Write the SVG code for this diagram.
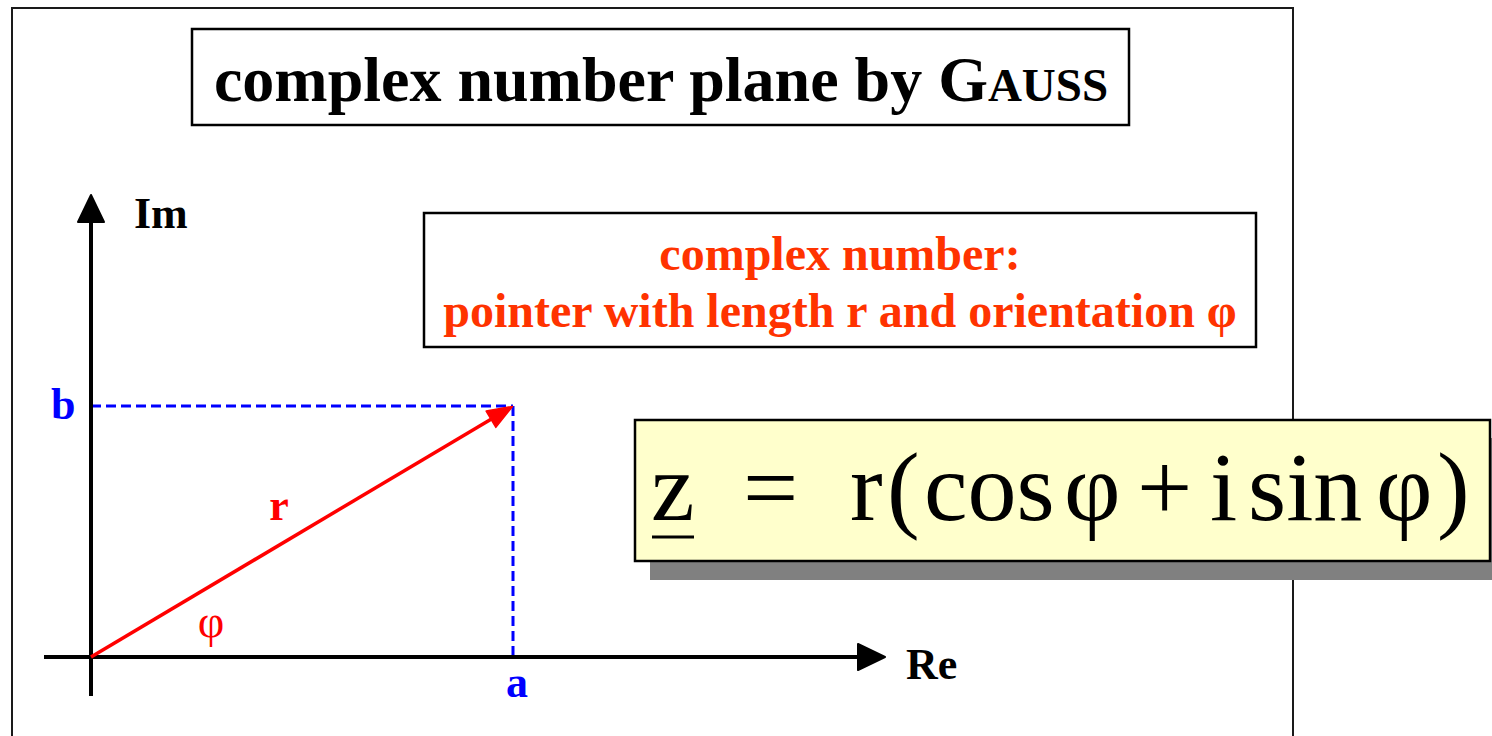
<svg xmlns="http://www.w3.org/2000/svg" width="1492" height="736" viewBox="0 0 1492 736">
<style>
.frame{fill:none;stroke:#1a1a1a;stroke-width:2}
.box{fill:#ffffff;stroke:#000;stroke-width:2.5}
.title{font-family:"Liberation Serif","Times New Roman",serif;font-weight:bold;fill:#000}
.note{font-family:"Liberation Serif","Times New Roman",serif;font-weight:bold;font-size:48px;fill:#ff3300}
.lbl{font-family:"Liberation Serif","Times New Roman",serif;font-weight:bold;font-size:44px}
.phi{font-family:"Liberation Serif","Times New Roman",serif;font-weight:normal;font-size:46px}
.formula{font-family:"Liberation Serif","Times New Roman",serif;font-size:98px;fill:#000}
.axis{stroke:#000;stroke-width:4;fill:none}
.dash{stroke:#0000ff;stroke-width:3;stroke-dasharray:10 5;fill:none}
.vec{stroke:#ff0000;stroke-width:3.5;fill:none}
</style>
<defs>
<marker id="blackHead" markerUnits="userSpaceOnUse" markerWidth="34" markerHeight="34" viewBox="-2 -17 34 34" refX="0" refY="0" orient="auto" overflow="visible">
<path d="M0,-13 L27,0 L0,13 Z" fill="#000" stroke="#000" stroke-width="2" stroke-linejoin="round"/>
</marker>
<marker id="redHead" markerUnits="userSpaceOnUse" markerWidth="30" markerHeight="26" viewBox="-2 -13 30 26" refX="0" refY="0" orient="auto" overflow="visible">
<path d="M0,-9.5 L25,0 L0,9.5 Z" fill="#ff0000" stroke="#ff0000" stroke-width="1.5" stroke-linejoin="round"/>
</marker>
</defs>
<rect x="0" y="0" width="1492" height="736" fill="#ffffff"/>
<g id="frame">
<path class="frame" d="M12,740 L12,8 L1293,8 L1293,740"/>
</g>
<g id="title">
<rect class="box" x="192" y="29" width="937" height="96"/>
<text class="title" x="661" y="101" text-anchor="middle" font-size="64">complex number plane by G<tspan font-size="47">AUSS</tspan></text>
</g>
<g id="note">
<rect class="box" x="424" y="213" width="832" height="134"/>
<text class="note" x="840" y="270" text-anchor="middle">complex number:</text>
<text class="note" x="840" y="327" text-anchor="middle">pointer with length r and orientation φ</text>
</g>
<g id="connectors">
<line class="dash" x1="91" y1="406" x2="513" y2="406"/>
<line class="dash" x1="513" y1="406" x2="513" y2="657"/>
<line class="axis" x1="91" y1="696" x2="91" y2="222" marker-end="url(#blackHead)"/>
<line class="axis" x1="44" y1="657" x2="858" y2="657" marker-end="url(#blackHead)"/>
<line class="vec" x1="91" y1="657" x2="491" y2="419.2" marker-end="url(#redHead)"/>
</g>
<g id="labels">
<text class="lbl" x="134" y="228" fill="#000">Im</text>
<text class="lbl" x="906" y="679" fill="#000">Re</text>
<text class="lbl" x="51" y="419" fill="#0000ff">b</text>
<text class="lbl" x="517" y="697" fill="#0000ff" text-anchor="middle">a</text>
<text class="lbl" x="279" y="520" fill="#ff0000" text-anchor="middle">r</text>
<text class="phi" x="211" y="637" fill="#ff0000" text-anchor="middle">φ</text>
</g>
<g id="formula">
<rect x="650" y="438" width="860" height="142" fill="#808080"/>
<rect x="635" y="420" width="855" height="141" fill="#ffffcc" stroke="#000" stroke-width="2.5"/>
<text class="formula" y="520"><tspan x="651">z</tspan><tspan x="743">=</tspan><tspan x="850">r</tspan><tspan x="887">(</tspan><tspan x="924">cos</tspan><tspan x="1064">φ</tspan><tspan x="1137">+</tspan><tspan x="1210">i</tspan><tspan x="1248">sin</tspan><tspan x="1376">φ</tspan><tspan x="1437">)</tspan></text>
<line x1="652" y1="537" x2="694" y2="537" stroke="#000" stroke-width="3"/>
</g>
</svg>
